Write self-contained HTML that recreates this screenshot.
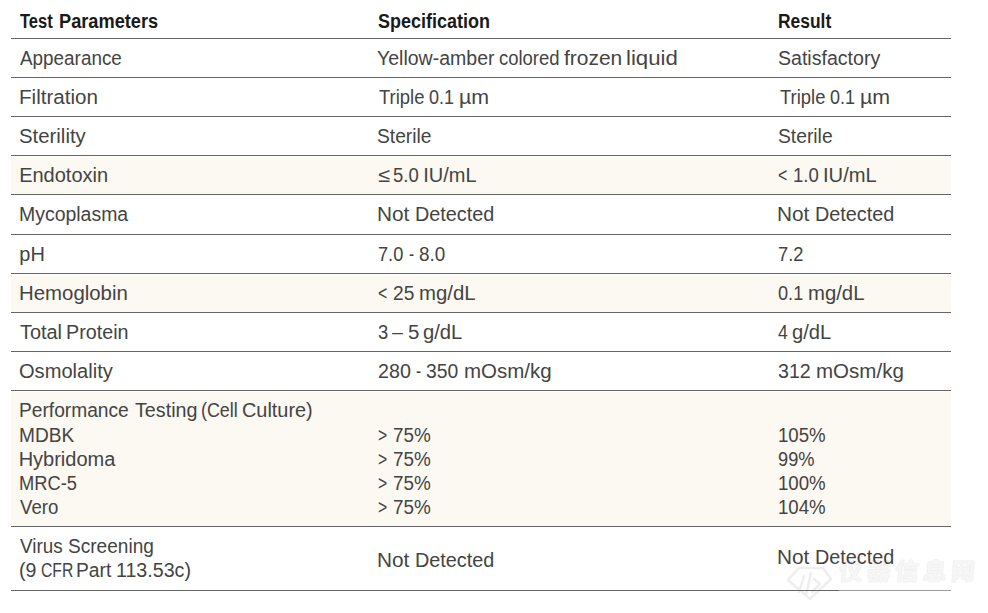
<!DOCTYPE html>
<html><head><meta charset="utf-8"><title>Test Parameters</title><style>
html,body{margin:0;padding:0;background:#fff;}
body{width:988px;height:613px;position:relative;overflow:hidden;font-family:"Liberation Sans",Arial,sans-serif;}
.t{position:absolute;white-space:nowrap;font-size:20px;line-height:40px;height:40px;color:#444444;}
.b{font-weight:bold;color:#1a1a1a;transform-origin:0 0;}
.l{position:absolute;left:11px;width:940px;height:1px;background:#666666;}
.bg{position:absolute;left:11px;width:940px;background:#fcf8f2;}
.wm{position:absolute;white-space:nowrap;font-family:"Liberation Sans","Noto Sans CJK SC",sans-serif;font-weight:900;font-size:24px;line-height:30px;color:#f6f6f6;letter-spacing:4px;text-shadow:0 0 1px #dcdcdc;transform:skewX(-5deg);}
</style></head><body>
<div class="bg" style="top:157px;height:37px"></div>
<div class="bg" style="top:275px;height:37px"></div>
<div class="bg" style="top:392px;height:134px"></div>
<svg style="position:absolute;left:785px;top:564px" width="50" height="38" viewBox="0 0 50 38"><g fill="none" stroke="#eeeeee" stroke-width="2.5" stroke-linejoin="round" stroke-linecap="round"><path d="M3 16 L14 4 L38 4 L46 15 L25 35 Z"/><path d="M19 12 L14 28 M26 9 L21 31 M29 15 L35 20 L27 28"/></g></svg>
<div class="wm" style="left:839px;top:557px">仪器信息网</div>
<div class="l" style="top:38px"></div>
<div class="l" style="top:77px"></div>
<div class="l" style="top:116px"></div>
<div class="l" style="top:155px"></div>
<div class="l" style="top:194px"></div>
<div class="l" style="top:234px"></div>
<div class="l" style="top:273px"></div>
<div class="l" style="top:312px"></div>
<div class="l" style="top:351px"></div>
<div class="l" style="top:390px"></div>
<div class="l" style="top:526px"></div>
<div class="l" style="top:590px"></div>
<div style="position:absolute;left:839px;top:590px;width:112px;height:1px;background:#fff;opacity:.35"></div>
<div class="t b" style="left:20.13px;top:1.0px;transform:scaleX(0.8240);transform-origin:0 0">Test</div>
<div class="t b" style="left:58.70px;top:1.0px;transform:scaleX(0.9105);transform-origin:0 0">Parameters</div>
<div class="t b" style="left:377.63px;top:1.0px;transform:scaleX(0.8989);transform-origin:0 0">Specification</div>
<div class="t b" style="left:777.84px;top:1.0px;transform:scaleX(0.8711);transform-origin:0 0">Result</div>
<div class="t " style="left:20.13px;top:38.0px;transform:scaleX(0.9442);transform-origin:0 0">Appearance</div>
<div class="t " style="left:377.38px;top:38.0px;transform:scaleX(0.9759);transform-origin:0 0">Yellow-amber</div>
<div class="t " style="left:499.46px;top:38.0px;transform:scaleX(0.9216);transform-origin:0 0">colored</div>
<div class="t " style="left:564.33px;top:38.0px;transform:scaleX(1.0467);transform-origin:0 0">frozen</div>
<div class="t " style="left:625.71px;top:38.0px;transform:scaleX(1.1080);transform-origin:0 0">liquid</div>
<div class="t " style="left:777.78px;top:38.0px;transform:scaleX(0.9783);transform-origin:0 0">Satisfactory</div>
<div class="t " style="left:18.89px;top:77.0px;transform:scaleX(1.0303);transform-origin:0 0">Filtration</div>
<div class="t " style="left:379.11px;top:77.0px;transform:scaleX(0.9222);transform-origin:0 0">Triple</div>
<div class="t " style="left:429.01px;top:77.0px;transform:scaleX(0.8996);transform-origin:0 0">0.1</div>
<div class="t " style="left:459.44px;top:77.0px;transform:scaleX(1.0684);transform-origin:0 0">&micro;m</div>
<div class="t " style="left:779.61px;top:77.0px;transform:scaleX(0.9222);transform-origin:0 0">Triple</div>
<div class="t " style="left:829.51px;top:77.0px;transform:scaleX(0.8996);transform-origin:0 0">0.1</div>
<div class="t " style="left:859.94px;top:77.0px;transform:scaleX(1.0684);transform-origin:0 0">&micro;m</div>
<div class="t " style="left:19.34px;top:116.0px;transform:scaleX(1.0180);transform-origin:0 0">Sterility</div>
<div class="t " style="left:377.39px;top:116.0px;transform:scaleX(0.9616);transform-origin:0 0">Sterile</div>
<div class="t " style="left:778.09px;top:116.0px;transform:scaleX(0.9635);transform-origin:0 0">Sterile</div>
<div class="t " style="left:19.14px;top:155.0px">Endotoxin</div>
<div class="t " style="left:377.64px;top:155.0px;transform:scaleX(1.0853);transform-origin:0 0">&le;</div>
<div class="t " style="left:393.48px;top:155.0px;transform:scaleX(0.9229);transform-origin:0 0">5.0</div>
<div class="t " style="left:423.30px;top:155.0px">IU/mL</div>
<div class="t " style="left:778.39px;top:155.0px;transform:scaleX(0.7966);transform-origin:0 0">&lt;</div>
<div class="t " style="left:793.38px;top:155.0px;transform:scaleX(0.9268);transform-origin:0 0">1.0</div>
<div class="t " style="left:823.29px;top:155.0px;transform:scaleX(1.0067);transform-origin:0 0">IU/mL</div>
<div class="t " style="left:18.69px;top:194.0px;transform:scaleX(0.9724);transform-origin:0 0">Mycoplasma</div>
<div class="t " style="left:376.78px;top:194.0px;transform:scaleX(1.0393);transform-origin:0 0">Not</div>
<div class="t " style="left:414.56px;top:194.0px;transform:scaleX(0.9908);transform-origin:0 0">Detected</div>
<div class="t " style="left:776.98px;top:194.0px;transform:scaleX(1.0393);transform-origin:0 0">Not</div>
<div class="t " style="left:814.76px;top:194.0px;transform:scaleX(0.9908);transform-origin:0 0">Detected</div>
<div class="t " style="left:19.32px;top:234.0px">pH</div>
<div class="t " style="left:377.67px;top:234.0px;transform:scaleX(0.9085);transform-origin:0 0">7.0</div>
<div class="t " style="left:408.86px;top:234.0px;transform:scaleX(0.7640);transform-origin:0 0">-</div>
<div class="t " style="left:418.80px;top:234.0px;transform:scaleX(0.9443);transform-origin:0 0">8.0</div>
<div class="t " style="left:777.67px;top:234.0px;transform:scaleX(0.9121);transform-origin:0 0">7.2</div>
<div class="t " style="left:18.91px;top:273.0px;transform:scaleX(1.0196);transform-origin:0 0">Hemoglobin</div>
<div class="t " style="left:378.39px;top:273.0px;transform:scaleX(0.7966);transform-origin:0 0">&lt;</div>
<div class="t " style="left:393.03px;top:273.0px;transform:scaleX(0.9582);transform-origin:0 0">25</div>
<div class="t " style="left:419.19px;top:273.0px;transform:scaleX(1.0173);transform-origin:0 0">mg/dL</div>
<div class="t " style="left:777.80px;top:273.0px;transform:scaleX(0.9072);transform-origin:0 0">0.1</div>
<div class="t " style="left:808.10px;top:273.0px;transform:scaleX(1.0155);transform-origin:0 0">mg/dL</div>
<div class="t " style="left:19.71px;top:312.0px;transform:scaleX(0.9949);transform-origin:0 0">Total</div>
<div class="t " style="left:65.66px;top:312.0px;transform:scaleX(0.9859);transform-origin:0 0">Protein</div>
<div class="t " style="left:377.71px;top:312.0px;transform:scaleX(0.9190);transform-origin:0 0">3</div>
<div class="t " style="left:392.39px;top:312.0px;transform:scaleX(0.9787);transform-origin:0 0">&ndash;</div>
<div class="t " style="left:407.99px;top:312.0px;transform:scaleX(1.0238);transform-origin:0 0">5</div>
<div class="t " style="left:422.78px;top:312.0px;transform:scaleX(1.0103);transform-origin:0 0">g/dL</div>
<div class="t " style="left:778.11px;top:312.0px;transform:scaleX(0.8796);transform-origin:0 0">4</div>
<div class="t " style="left:792.49px;top:312.0px;transform:scaleX(1.0076);transform-origin:0 0">g/dL</div>
<div class="t " style="left:19.41px;top:351.0px;transform:scaleX(1.0043);transform-origin:0 0">Osmolality</div>
<div class="t " style="left:377.61px;top:351.0px;transform:scaleX(0.9840);transform-origin:0 0">280</div>
<div class="t " style="left:415.96px;top:351.0px;transform:scaleX(0.7640);transform-origin:0 0">-</div>
<div class="t " style="left:426.28px;top:351.0px;transform:scaleX(0.9638);transform-origin:0 0">350</div>
<div class="t " style="left:463.69px;top:351.0px;transform:scaleX(1.0251);transform-origin:0 0">mOsm/kg</div>
<div class="t " style="left:777.66px;top:351.0px;transform:scaleX(0.9828);transform-origin:0 0">312</div>
<div class="t " style="left:815.59px;top:351.0px;transform:scaleX(1.0263);transform-origin:0 0">mOsm/kg</div>
<div class="t " style="left:18.81px;top:389.6px;transform:scaleX(0.9586);transform-origin:0 0">Performance</div>
<div class="t " style="left:134.61px;top:389.6px;transform:scaleX(0.9852);transform-origin:0 0">Testing</div>
<div class="t " style="left:201.14px;top:389.6px;transform:scaleX(0.8943);transform-origin:0 0">(Cell</div>
<div class="t " style="left:241.60px;top:389.6px;transform:scaleX(0.9938);transform-origin:0 0">Culture)</div>
<div class="t " style="left:18.71px;top:415.0px;transform:scaleX(0.9557);transform-origin:0 0">MDBK</div>
<div class="t " style="left:378.40px;top:415.0px;transform:scaleX(0.7867);transform-origin:0 0">&gt;</div>
<div class="t " style="left:392.64px;top:415.0px;transform:scaleX(0.9433);transform-origin:0 0">75%</div>
<div class="t " style="left:778.07px;top:415.0px;transform:scaleX(0.9312);transform-origin:0 0">105%</div>
<div class="t " style="left:18.64px;top:439.0px">Hybridoma</div>
<div class="t " style="left:378.40px;top:439.0px;transform:scaleX(0.7867);transform-origin:0 0">&gt;</div>
<div class="t " style="left:392.64px;top:439.0px;transform:scaleX(0.9433);transform-origin:0 0">75%</div>
<div class="t " style="left:778.20px;top:439.0px;transform:scaleX(0.9113);transform-origin:0 0">99%</div>
<div class="t " style="left:18.78px;top:463.0px;transform:scaleX(0.9144);transform-origin:0 0">MRC-5</div>
<div class="t " style="left:378.40px;top:463.0px;transform:scaleX(0.7867);transform-origin:0 0">&gt;</div>
<div class="t " style="left:392.64px;top:463.0px;transform:scaleX(0.9433);transform-origin:0 0">75%</div>
<div class="t " style="left:778.07px;top:463.0px;transform:scaleX(0.9312);transform-origin:0 0">100%</div>
<div class="t " style="left:19.83px;top:487.0px;transform:scaleX(0.9308);transform-origin:0 0">Vero</div>
<div class="t " style="left:378.40px;top:487.0px;transform:scaleX(0.7867);transform-origin:0 0">&gt;</div>
<div class="t " style="left:392.64px;top:487.0px;transform:scaleX(0.9433);transform-origin:0 0">75%</div>
<div class="t " style="left:778.07px;top:487.0px;transform:scaleX(0.9312);transform-origin:0 0">104%</div>
<div class="t " style="left:19.73px;top:525.6px;transform:scaleX(0.9436);transform-origin:0 0">Virus</div>
<div class="t " style="left:67.80px;top:525.6px;transform:scaleX(0.9531);transform-origin:0 0">Screening</div>
<div class="t " style="left:19.16px;top:550.0px;transform:scaleX(0.9779);transform-origin:0 0">(9</div>
<div class="t " style="left:40.68px;top:550.0px;transform:scaleX(0.7871);transform-origin:0 0">CFR</div>
<div class="t " style="left:76.21px;top:550.0px;transform:scaleX(0.9610);transform-origin:0 0">Part</div>
<div class="t " style="left:116.32px;top:550.0px;transform:scaleX(0.9812);transform-origin:0 0">113.53c)</div>
<div class="t " style="left:376.78px;top:539.6px;transform:scaleX(1.0393);transform-origin:0 0">Not</div>
<div class="t " style="left:414.56px;top:539.6px;transform:scaleX(0.9908);transform-origin:0 0">Detected</div>
<div class="t " style="left:777.28px;top:536.6px;transform:scaleX(1.0393);transform-origin:0 0">Not</div>
<div class="t " style="left:815.06px;top:536.6px;transform:scaleX(0.9908);transform-origin:0 0">Detected</div>

</body></html>
